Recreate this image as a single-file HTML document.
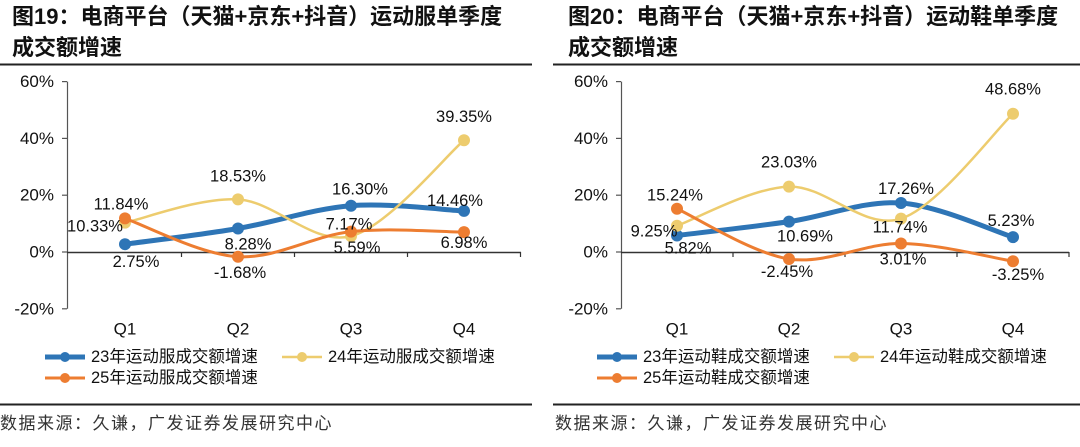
<!DOCTYPE html>
<html><head><meta charset="utf-8"><style>
html,body{margin:0;padding:0;background:#fff;}
body{width:1080px;height:442px;overflow:hidden;font-family:"Liberation Sans","Noto Sans CJK SC",sans-serif;}
svg text{font-family:"Liberation Sans","Noto Sans CJK SC",sans-serif;}
</style></head><body>
<svg id="svg" width="1080" height="442" viewBox="0 0 1080 442" xmlns="http://www.w3.org/2000/svg">
<g>
<text x="12" y="24" font-size="22" font-weight="bold" fill="#111">图19：电商平台（天猫+京东+抖音）运动服单季度</text>
<text x="12" y="55" font-size="22" font-weight="bold" fill="#111">成交额增速</text>
<line x1="0" y1="64.5" x2="532" y2="64.5" stroke="#222" stroke-width="2"/>
<line x1="0" y1="404.5" x2="532" y2="404.5" stroke="#222" stroke-width="2"/>
<text x="0" y="429" font-size="17" letter-spacing="1.5" fill="#333">数据来源：久谦，广发证券发展研究中心</text>
</g>
<g>
<text x="568" y="24" font-size="22" font-weight="bold" fill="#111">图20：电商平台（天猫+京东+抖音）运动鞋单季度</text>
<text x="568" y="55" font-size="22" font-weight="bold" fill="#111">成交额增速</text>
<line x1="553" y1="64.5" x2="1080" y2="64.5" stroke="#222" stroke-width="2"/>
<line x1="553" y1="404.5" x2="1080" y2="404.5" stroke="#222" stroke-width="2"/>
<text x="555" y="429" font-size="17" letter-spacing="1.5" fill="#333">数据来源：久谦，广发证券发展研究中心</text>
</g>
</svg>
<script>
const categories = ['Q1','Q2','Q3','Q4'];
const yTicks = [60,40,20,0,-20];
const leftSeries23 = [2.75, 8.28, 16.30, 14.46];
const leftSeries24 = [10.33, 18.53, 5.59, 39.35];
const leftSeries25 = [11.84, -1.68, 7.17, 6.98];
const rightSeries23 = [5.82, 10.69, 17.26, 5.23];
const rightSeries24 = [9.25, 23.03, 11.74, 48.68];
const rightSeries25 = [15.24, -2.45, 3.01, -3.25];
const leftNames = ['23年运动服成交额增速','24年运动服成交额增速','25年运动服成交额增速'];
const rightNames = ['23年运动鞋成交额增速','24年运动鞋成交额增速','25年运动鞋成交额增速'];
// label offsets (layout only)
const leftOff = [[[11,18],[10,16],[9,-16],[-9,-10]],[[-30,4],[0,-23],[6,12],[0,-23]],[[-4,-14],[2,16],[-2,-7],[0,11]]];
const rightOff = [[[11,13],[16,15],[5,-14],[-2,-16]],[[-23,6],[0,-24],[-1,9],[0,-24]],[[-2,-13],[-2,13],[2,16],[5,14]]];

const NS='http://www.w3.org/2000/svg';
const svg=document.getElementById('svg');
const colors=['#2E75B6','#EDCC6E','#ED7D31'];
const widths=[5,2.5,3];
function mk(tag,attrs,parent){const e=document.createElementNS(NS,tag);for(const k in attrs)e.setAttribute(k,attrs[k]);(parent||svg).appendChild(e);return e;}

function drawChart(prefix,axisX,firstX,step,endX,series,offs,names,legendX){
  const y0=252, ppp=2.84;
  const yS=v=>y0-v*ppp;
  const xS=i=>firstX+i*step;
  const g=mk('g',{});
  
  
  const ax=mk('line',{x1:axisX+0.5,y1:yS(60),x2:axisX+0.5,y2:yS(-20),stroke:'#555','stroke-width':1.2},g);
  
  
  yTicks.forEach(t=>{
    const tk=mk('line',{x1:axisX-5,y1:yS(t),x2:axisX,y2:yS(t),stroke:'#555','stroke-width':1.2},g);
    
    
    const tl=mk('text',{x:axisX-13,y:yS(t),'font-size':17,'text-anchor':'end','dominant-baseline':'central',fill:'#111'},g);
    tl.textContent=t+'%';
    
    
  });
  const xa=mk('line',{x1:axisX,y1:y0+0.5,x2:endX,y2:y0+0.5,stroke:'#333','stroke-width':1.4},g);
  
  
  categories.forEach((c,i)=>{
    const bx=xS(i)+step/2;
    const tk=mk('line',{x1:bx,y1:y0,x2:bx,y2:y0+5,stroke:'#333','stroke-width':1.2},g);
    
    
    const tl=mk('text',{x:xS(i),y:329,'font-size':17,'text-anchor':'middle','dominant-baseline':'central',fill:'#111'},g);
    tl.textContent=c;
    
    
  });
  series.forEach((s,si)=>{
    const pts=s.map((v,i)=>[xS(i),yS(v)]);
    let d='M'+pts[0][0]+','+pts[0][1];
    for(let i=0;i<pts.length-1;i++){
      const p0=pts[Math.max(0,i-1)],p1=pts[i],p2=pts[i+1],p3=pts[Math.min(pts.length-1,i+2)];
      const c1=[p1[0]+(p2[0]-p0[0])/6,p1[1]+(p2[1]-p0[1])/6];
      const c2=[p2[0]-(p3[0]-p1[0])/6,p2[1]-(p3[1]-p1[1])/6];
      d+=' C'+c1+' '+c2+' '+p2;
    }
    const path=mk('path',{d:d,fill:'none',stroke:colors[si],'stroke-width':widths[si],'stroke-linecap':'round'},g);
    
    
    pts.forEach((p,i)=>{
      const c=mk('circle',{cx:p[0],cy:p[1],r:6,fill:colors[si]},g);
      
      
    });
  });
  series.forEach((s,si)=>{
    s.forEach((v,i)=>{
      const t=mk('text',{x:xS(i)+offs[si][i][0],y:yS(v)+offs[si][i][1],'font-size':16.5,'text-anchor':'middle','dominant-baseline':'central',fill:'#111'},g);
      t.textContent=v.toFixed(2)+'%';
      
      
    });
  });
  const lpos=[[legendX,357],[legendX+237,357],[legendX,378]];
  names.forEach((n,si)=>{
    const lg=mk('g',{},g);
    
    
    const [lx,ly]=lpos[si];
    mk('line',{x1:lx,y1:ly,x2:lx+40,y2:ly,stroke:colors[si],'stroke-width':widths[si]},lg);
    mk('circle',{cx:lx+20,cy:ly,r:5,fill:colors[si]},lg);
    const t=mk('text',{x:lx+46,y:ly,'font-size':16.5,'dominant-baseline':'central',fill:'#111'},lg);
    t.textContent=n;
  });
}
drawChart('left',67,125,113,521,[leftSeries23,leftSeries24,leftSeries25],leftOff,leftNames,45);
drawChart('right',621,677,112,1069,[rightSeries23,rightSeries24,rightSeries25],rightOff,rightNames,597);
</script>
</body></html>
